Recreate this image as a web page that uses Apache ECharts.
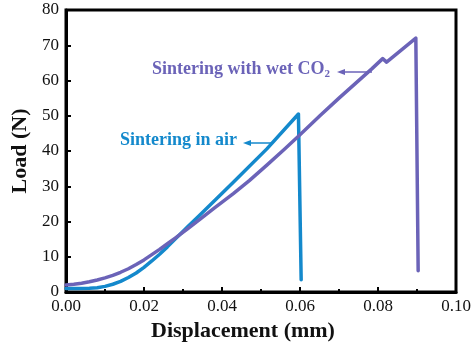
<!DOCTYPE html>
<html>
<head>
<meta charset="utf-8">
<script src="https://cdn.jsdelivr.net/npm/echarts@6/dist/echarts.min.js"></script>
<style>
  html, body { margin: 0; padding: 0; background: #fff; }
  #chart { width: 475px; height: 347px; }
</style>
</head>
<body>
<div id="chart"></div>
<script>
// Load–displacement curves, [displacement (mm), load (N)]
const airCurve = [
  [0.000, 1.0], [0.003, 1.0], [0.006, 1.05], [0.008, 1.2], [0.010, 1.6],
  [0.012, 2.2], [0.014, 3.0], [0.016, 4.1], [0.018, 5.4], [0.020, 7.0],
  [0.022, 8.8], [0.024, 10.7], [0.026, 12.8], [0.028, 15.0], [0.031, 18.3],
  [0.0344, 21.9], [0.0429, 31.1], [0.0515, 40.6], [0.0596, 50.5], [0.0603, 3.5]
];
const wetCO2Curve = [
  [0.000, 2.0], [0.002, 2.2], [0.004, 2.5], [0.006, 2.9], [0.008, 3.4],
  [0.010, 4.0], [0.012, 4.7], [0.014, 5.6], [0.016, 6.6], [0.018, 7.8],
  [0.020, 9.1], [0.022, 10.6], [0.024, 12.1], [0.026, 13.7], [0.028, 15.3],
  [0.031, 17.8], [0.0344, 20.7], [0.038, 23.8], [0.0429, 27.9], [0.047, 31.6],
  [0.0515, 36.0], [0.056, 40.5], [0.060, 44.6], [0.0651, 50.0], [0.070, 55.0],
  [0.0784, 63.3], [0.0812, 66.2], [0.0822, 65.2], [0.0897, 72.0], [0.0903, 6.0]
];
const xTicks = [0, 0.02, 0.04, 0.06, 0.08, 0.10];
const yTicks = [0, 10, 20, 30, 40, 50, 60, 70, 80];

const airColor = '#1489cc';
const co2Color = '#6b63b8';
const serif = '"Liberation Serif", "Times New Roman", serif';

const chart = echarts.init(document.getElementById('chart'));

function arrow(x1, x2, y, color) {
  return [
    { type: 'line', shape: { x1: x1 + 6, y1: y, x2: x2, y2: y },
      style: { stroke: color, lineWidth: 1.5 } },
    { type: 'polygon', shape: { points: [[x1, y], [x1 + 8, y - 3], [x1 + 8, y + 3]] },
      style: { fill: color } }
  ];
}

chart.setOption({
  animation: false,
  grid: { left: 66, top: 10, right: 19, bottom: 48, show: true,
          borderColor: '#000', borderWidth: 3, backgroundColor: 'transparent' },
  xAxis: {
    type: 'value', min: 0, max: 0.10, interval: 0.02,
    name: 'Displacement (mm)', nameLocation: 'middle', nameGap: 28,
    nameTextStyle: { fontFamily: serif, fontWeight: 'bold', fontSize: 22, color: '#111',
                     padding: [0, 36, 0, 0] },
    axisLine: { lineStyle: { color: '#000', width: 3 } },
    axisTick: { inside: true, length: 5, lineStyle: { color: '#000', width: 2 } },
    minorTick: { show: true, splitNumber: 2, length: 3, lineStyle: { color: '#000', width: 2 } },
    axisLabel: { fontFamily: serif, fontSize: 17, color: '#111', margin: 6,
                 formatter: v => v.toFixed(2) },
    splitLine: { show: false }
  },
  yAxis: {
    type: 'value', min: 0, max: 80, interval: 10,
    name: 'Load (N)', nameLocation: 'middle', nameGap: 30,
    nameTextStyle: { fontFamily: serif, fontWeight: 'bold', fontSize: 22, color: '#111' },
    axisLine: { lineStyle: { color: '#000', width: 3 } },
    axisTick: { inside: true, length: 5, lineStyle: { color: '#000', width: 2 } },
    axisLabel: { fontFamily: serif, fontSize: 17, color: '#111', margin: 7 },
    splitLine: { show: false }
  },
  series: [
    { type: 'line', data: airCurve, symbol: 'none', smooth: false,
      lineStyle: { color: airColor, width: 3.5, join: 'round', cap: 'round' } },
    { type: 'line', data: wetCO2Curve, symbol: 'none', smooth: false,
      lineStyle: { color: co2Color, width: 3.5, join: 'round', cap: 'round' } }
  ],
  graphic: [
    { type: 'text', left: 120, top: 131,
      style: { text: 'Sintering in air', fill: airColor, fontFamily: serif,
               fontWeight: 'bold', fontSize: 18 } },
    ...arrow(243, 272, 143, airColor),
    { type: 'text', left: 152, top: 60,
      style: { text: 'Sintering with wet CO{s|2}', fill: co2Color, fontFamily: serif,
               fontWeight: 'bold', fontSize: 18,
               rich: { s: { fontFamily: serif, fontWeight: 'bold', fontSize: 11,
                            fill: co2Color, padding: [11, 0, 0, 0] } } } },
    ...arrow(337, 372, 72, co2Color)
  ]
});
</script>
</body>
</html>
